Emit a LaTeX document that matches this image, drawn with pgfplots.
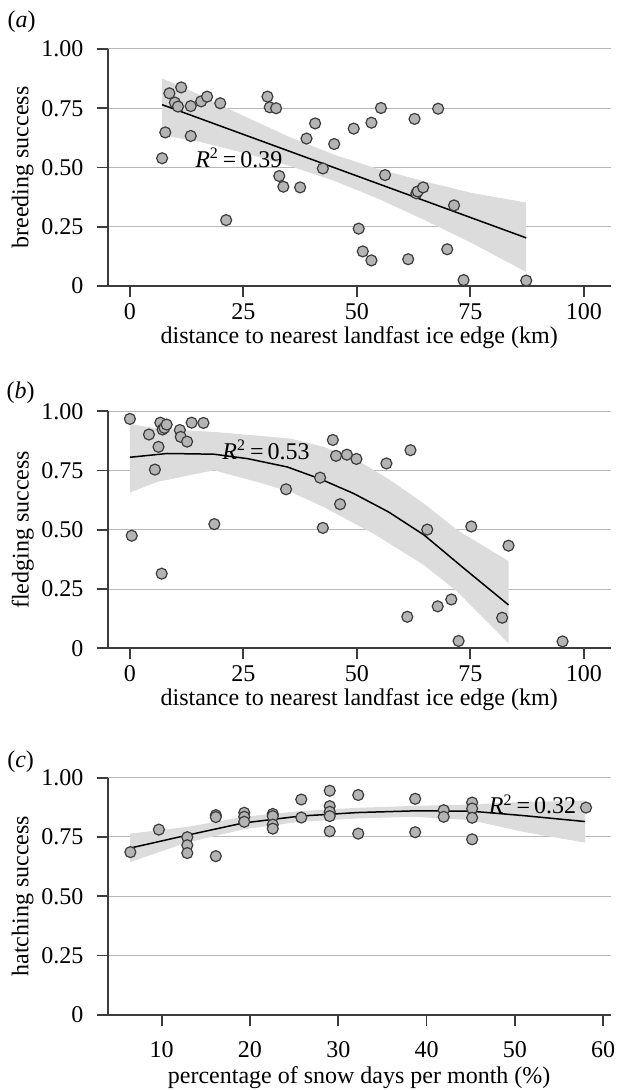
\documentclass[border=0pt]{standalone}
\usepackage{fontspec}
\setmainfont{Liberation Serif}
\usepackage{pgfplots}
\pgfplotsset{compat=1.18}

\definecolor{axisgray}{RGB}{60,60,60}
\definecolor{dotfill}{RGB}{180,180,180}
\definecolor{bandgray}{RGB}{220,220,220}

\pgfplotsset{
  panel/.style={
    width=251.5pt, height=118.5pt, scale only axis,
    axis lines=left,
    axis line style={-, draw=axisgray, line width=0.9pt},
    ymin=0, ymax=1,
    ytick={0,0.25,0.5,0.75,1},
    yticklabels={0,0.25,0.50,0.75,1.00},
    ymajorgrids, grid style={black!28, line width=0.5pt},
    tick align=outside, major tick length=5.5pt,
    tick style={draw=axisgray, line width=0.9pt},
    /pgf/number format/assume math mode=true,
    tick label style={font=\fontsize{12}{14}\selectfont, inner sep=0.5pt},
    xticklabel style={yshift=-2.5pt},
    yticklabel style={xshift=-6pt},
    label style={font=\fontsize{12}{14}\selectfont, inner sep=0pt},
    xlabel style={at={(axis description cs:0.5,-0.216)}, anchor=center},
    ylabel style={at={(axis description cs:-0.169,0.5)}, anchor=center},
    clip=false,
  },
  dots/.style={only marks, mark=*, mark size=2.75pt,
    mark options={fill=dotfill, draw=axisgray, line width=0.6pt}},
  fit/.style={black, line width=0.75pt},
  band/.style={fill=bandgray, draw=none},
}

\newcommand{\rsq}[1]{{\itshape R}\textsuperscript{2}\,=\,#1}

\begin{document}
\begin{tikzpicture}
\path (0,0) rectangle (307pt,-545pt);

\node[font=\fontsize{12}{14}\selectfont] at (10.5pt,-11pt) {(\textit{a})};
\node[font=\fontsize{12}{14}\selectfont] at (10pt,-196.5pt) {(\textit{b})};
\node[font=\fontsize{12}{14}\selectfont] at (10pt,-381pt) {(\textit{c})};

% (a) breeding success
\begin{axis}[panel, at={(53.5pt,-143pt)}, anchor=south west,
  xmin=-4.9, xmax=105.9, xtick={0,25,50,75,100},
  xlabel={distance to nearest landfast ice edge (km)},
  ylabel={breeding success}]
\addplot[band] coordinates {
  (7.1,0.876) (15,0.810) (25,0.718) (35,0.630) (45,0.554) (55,0.492) (65,0.441) (75,0.394) (87.3,0.352)
  (87.3,0.059) (75,0.184) (65,0.277) (55,0.366) (45,0.444) (35,0.508) (25,0.562) (15,0.610) (7.1,0.636)} -- cycle;
\addplot[fit] coordinates {(7.1,0.765) (87.3,0.203)};
\addplot[dots] coordinates {
  (7.1,0.539) (7.8,0.648) (8.7,0.813) (9.9,0.774) (10.6,0.757) (11.3,0.838)
  (13.4,0.633) (13.4,0.759) (15.7,0.779) (17.0,0.799) (19.9,0.771) (21.2,0.278)
  (30.3,0.799) (30.8,0.754) (32.2,0.750) (32.9,0.464) (33.8,0.419) (37.5,0.416)
  (38.9,0.622) (40.8,0.686) (42.5,0.496) (45.0,0.599) (49.3,0.664) (50.4,0.242)
  (51.3,0.146) (53.2,0.689) (53.2,0.108) (55.3,0.751) (56.2,0.468) (61.3,0.113)
  (62.7,0.705) (63.1,0.391) (63.4,0.399) (64.6,0.416) (67.9,0.748) (69.9,0.155)
  (71.4,0.340) (73.5,0.025) (87.3,0.023)};
\node[font=\fontsize{12}{14}\selectfont] at (axis cs:24,0.54) {\rsq{0.39}};
\end{axis}

% (b) fledging success
\begin{axis}[panel, at={(53.5pt,-324.15pt)}, anchor=south west,
  xmin=-4.9, xmax=105.9, xtick={0,25,50,75,100},
  xlabel={distance to nearest landfast ice edge (km)},
  ylabel={fledging success}]
\addplot[band] coordinates {
  (0,0.947) (6,0.927) (18.5,0.913) (35.4,0.885) (42.7,0.850) (50,0.794)
  (57.4,0.709) (64.8,0.610) (72.1,0.499) (83.4,0.368)
  (83.4,0.021) (72.1,0.239) (64.8,0.351) (53.7,0.483) (42.7,0.596)
  (35.4,0.660) (28,0.702) (18.5,0.751) (6,0.702) (0,0.657)} -- cycle;
\addplot[fit] coordinates {
  (0,0.806) (8.2,0.822) (18.5,0.819) (26,0.800) (34.7,0.765) (42,0.714)
  (49.3,0.653) (57,0.575) (64.8,0.478) (73.6,0.337) (83.4,0.183)};
\addplot[dots] coordinates {
  (0,0.968) (0.4,0.475) (4.2,0.902) (5.5,0.754) (6.3,0.850) (6.7,0.952)
  (7.0,0.315) (7.2,0.923) (7.6,0.930) (8.1,0.944) (11.0,0.921) (11.2,0.892)
  (12.6,0.872) (13.6,0.952) (16.2,0.951) (18.6,0.524) (34.4,0.671) (41.9,0.720)
  (42.5,0.508) (44.7,0.879) (45.4,0.812) (46.3,0.608) (47.8,0.817) (49.9,0.799)
  (56.5,0.780) (61.1,0.133) (61.8,0.836) (65.5,0.501) (67.8,0.177) (70.8,0.206)
  (72.4,0.031) (75.2,0.514) (82.0,0.129) (83.4,0.433) (95.3,0.029)};
\node[font=\fontsize{12}{14}\selectfont] at (axis cs:30,0.838) {\rsq{0.53}};
\end{axis}

% (c) hatching success
\begin{axis}[panel, at={(53.5pt,-507.35pt)}, anchor=south west,
  xmin=3.88, xmax=60.85, xtick={10,20,30,40,50,60},
  xticklabel style={yshift=-4.5pt},
  xlabel style={at={(axis description cs:0.5,-0.266)}},
  xlabel={percentage of snow days per month (\%)},
  ylabel={hatching success}]
\addplot[band] coordinates {
  (6.42,0.764) (12.83,0.792) (19.25,0.835) (25.66,0.859) (32.15,0.873)
  (38.57,0.881) (44.98,0.887) (51.0,0.898) (57.96,0.903)
  (57.96,0.726) (51.0,0.771) (44.98,0.821) (38.57,0.835) (32.15,0.828)
  (25.66,0.814) (19.25,0.782) (12.83,0.726) (6.42,0.644)} -- cycle;
\addplot[fit] coordinates {
  (6.42,0.703) (12.83,0.757) (19.25,0.809) (25.66,0.838) (32.15,0.853)
  (38.57,0.860) (44.98,0.859) (51.0,0.840) (57.96,0.815)};
\addplot[dots] coordinates {
  (6.45,0.686) (9.68,0.781)
  (12.90,0.749) (12.90,0.715) (12.90,0.682)
  (16.13,0.842) (16.13,0.834) (16.13,0.669)
  (19.35,0.852) (19.35,0.835) (19.35,0.814)
  (22.58,0.847) (22.58,0.838) (22.58,0.802) (22.58,0.785)
  (25.81,0.908) (25.81,0.832)
  (29.03,0.945) (29.03,0.880) (29.03,0.856) (29.03,0.838) (29.03,0.774)
  (32.26,0.927) (32.26,0.764)
  (38.71,0.911) (38.71,0.770)
  (41.94,0.863) (41.94,0.835)
  (45.16,0.895) (45.16,0.870) (45.16,0.831) (45.16,0.740)
  (58.06,0.874)};
\node[font=\fontsize{12}{14}\selectfont] at (axis cs:52,0.888) {\rsq{0.32}};
\end{axis}
\end{tikzpicture}
\end{document}
